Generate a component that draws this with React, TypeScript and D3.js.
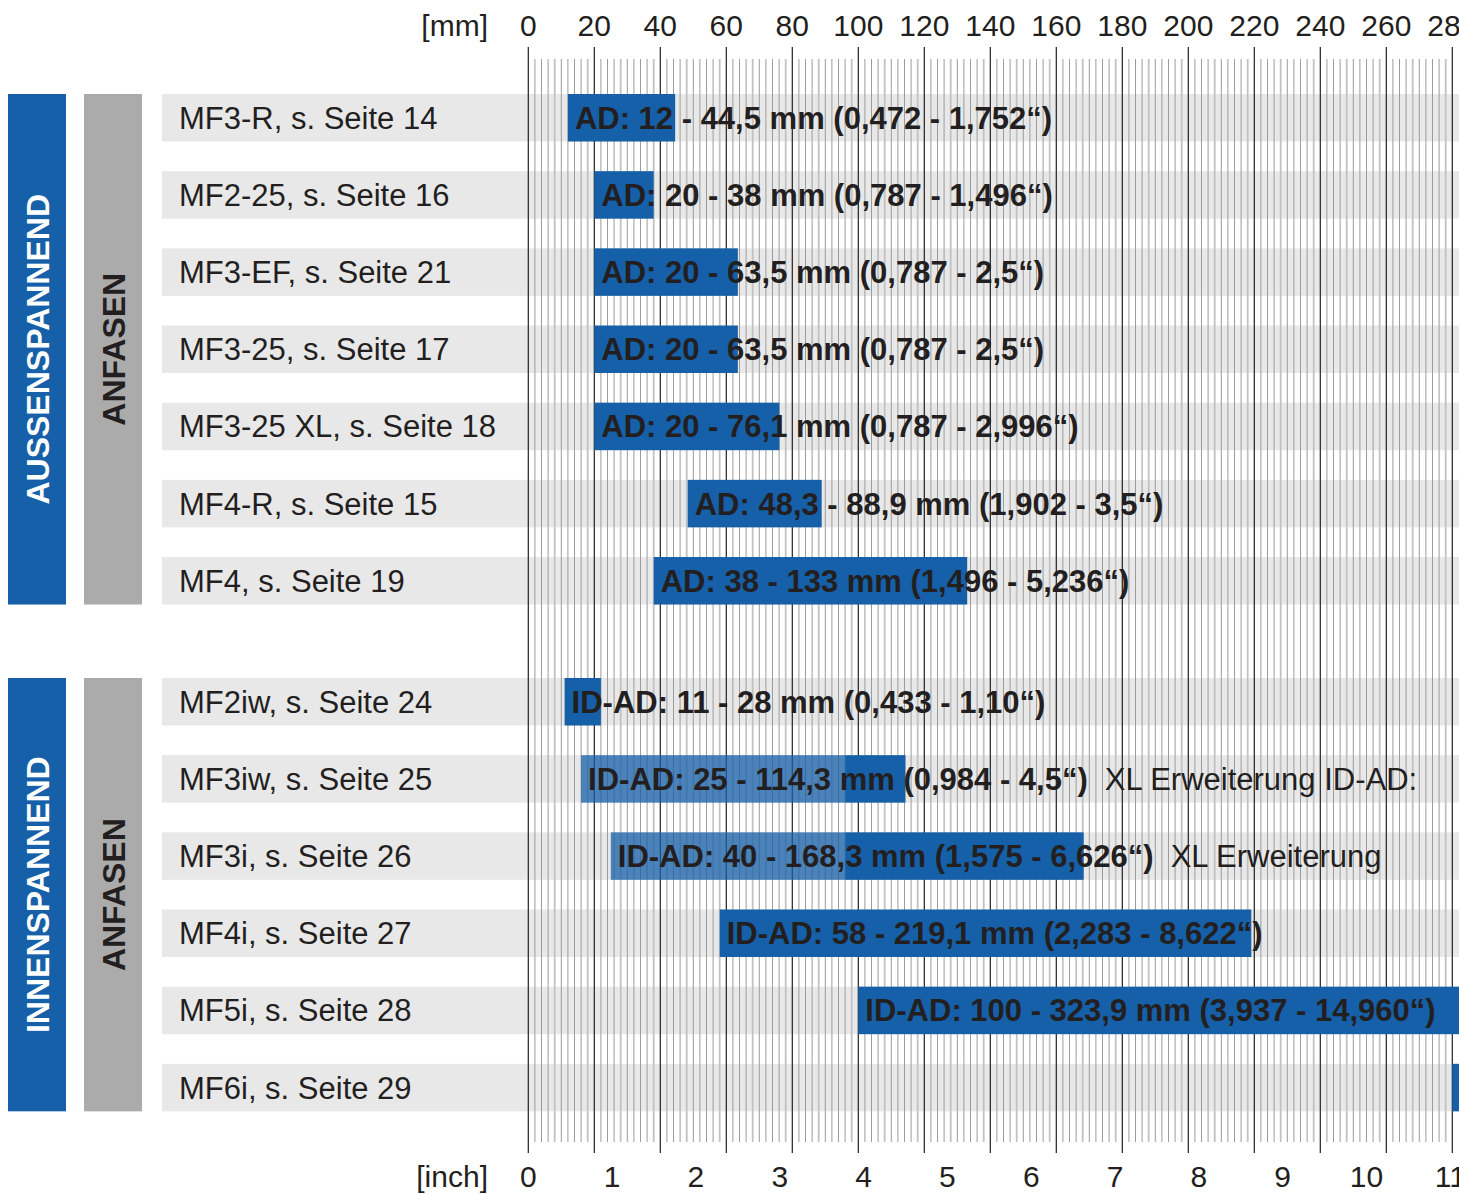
import { useEffect, useRef } from 'react';
import * as d3 from 'd3';

// Clamping ranges per product (mm); xlFrom marks the lighter "XL" extension start
const rowLabels = [
  'MF3-R, s. Seite 14',
  'MF2-25, s. Seite 16',
  'MF3-EF, s. Seite 21',
  'MF3-25, s. Seite 17',
  'MF3-25 XL, s. Seite 18',
  'MF4-R, s. Seite 15',
  'MF4, s. Seite 19',
  'MF2iw, s. Seite 24',
  'MF3iw, s. Seite 25',
  'MF3i, s. Seite 26',
  'MF4i, s. Seite 27',
  'MF5i, s. Seite 28',
  'MF6i, s. Seite 29',
];
const rowGroup = [0, 0, 0, 0, 0, 0, 0, 1, 1, 1, 1, 1, 1];
const rangeFrom = [12, 20, 20, 20, 20, 48.3, 38, 11, 96, 96, 58, 100, 280];
const rangeTo = [44.5, 38, 63.5, 63.5, 76.1, 88.9, 133, 22, 114.3, 168.3, 219.1, 323.9, 340];
const xlFrom: (number | null)[] = [null, null, null, null, null, null, null, null, 16, 25, null, null, null];
const rangeText = [
  'AD: 12 - 44,5 mm (0,472 - 1,752“)',
  'AD: 20 - 38 mm (0,787 - 1,496“)',
  'AD: 20 - 63,5 mm (0,787 - 2,5“)',
  'AD: 20 - 63,5 mm (0,787 - 2,5“)',
  'AD: 20 - 76,1 mm (0,787 - 2,996“)',
  'AD: 48,3 - 88,9 mm (1,902 - 3,5“)',
  'AD: 38 - 133 mm (1,496 - 5,236“)',
  'ID-AD: 11 - 28 mm (0,433 - 1,10“)',
  'ID-AD: 25 - 114,3 mm (0,984 - 4,5“)',
  'ID-AD: 40 - 168,3 mm (1,575 - 6,626“)',
  'ID-AD: 58 - 219,1 mm (2,283 - 8,622“)',
  'ID-AD: 100 - 323,9 mm (3,937 - 14,960“)',
  '',
];
const noteText = ['', '', '', '', '', '', '', '', 'XL Erweiterung ID-AD:', 'XL Erweiterung', '', '', ''];
const groupTitles = ['AUSSENSPANNEND', 'INNENSPANNEND'];
const subTitles = ['ANFASEN', 'ANFASEN'];
const mmTicks = [0, 20, 40, 60, 80, 100, 120, 140, 160, 180, 200, 220, 240, 260, 280];
const inchTicks = [0, 1, 2, 3, 4, 5, 6, 7, 8, 9, 10, 11];

const WIDTH = 1459;
const HEIGHT = 1194;
const FONT = '"Liberation Sans", Arial, Helvetica, sans-serif';
const BLUE = '#1560a8';
const DARK = '#231f20';
const BAND = '#e8e8e9';
const ROW_TOP = 94;
const ROW_PITCH = 77.17;
const BAND_H = 47.5;
const GROUP_GAP = 43.8;

export default function App() {
  const svgRef = useRef<SVGSVGElement>(null);

  useEffect(() => {
    if (!svgRef.current) return;
    const svg = d3.select(svgRef.current);
    svg.selectAll('*').remove();

    const x = d3.scaleLinear().domain([0, 282]).range([528.3, 528.3 + 282 * 3.3]);
    const rowY = d3.scaleLinear().domain([0, 1]).range([ROW_TOP, ROW_TOP + ROW_PITCH]);
    const yOf = (i: number) => rowY(i) + rowGroup[i] * GROUP_GAP;

    svg.append('rect').attr('width', WIDTH).attr('height', HEIGHT).attr('fill', '#ffffff');

    // Row bands
    rowLabels.forEach((_, i) => {
      svg
        .append('rect')
        .attr('x', 162)
        .attr('y', yOf(i))
        .attr('width', WIDTH - 162)
        .attr('height', BAND_H)
        .attr('fill', BAND);
    });

    // Minor grid every 2 mm
    const minor = d3.range(2, 282, 2).filter(v => v % 20 !== 0);
    svg
      .append('g')
      .selectAll('line')
      .data(minor)
      .enter()
      .append('line')
      .attr('x1', (d: number) => x(d))
      .attr('x2', (d: number) => x(d))
      .attr('y1', 59)
      .attr('y2', 1142)
      .attr('stroke', (d: number) => (d % 10 === 8 ? '#c2c2c2' : '#9c9c9c'))
      .attr('stroke-width', (d: number) => (d % 10 === 8 ? 1.8 : 1));

    // Major grid every 20 mm
    svg
      .append('g')
      .selectAll('line')
      .data(mmTicks)
      .enter()
      .append('line')
      .attr('x1', (d: number) => x(d))
      .attr('x2', (d: number) => x(d))
      .attr('y1', 47)
      .attr('y2', 1153)
      .attr('stroke', DARK)
      .attr('stroke-width', 1.2);

    // Bars
    rowLabels.forEach((_, i) => {
      const y = yOf(i);
      const xl = xlFrom[i];
      if (xl != null) {
        svg
          .append('rect')
          .attr('x', x(xl))
          .attr('y', y)
          .attr('width', x(rangeFrom[i]) - x(xl))
          .attr('height', BAND_H)
          .attr('fill', BLUE)
          .attr('fill-opacity', 0.75);
      }
      svg
        .append('rect')
        .attr('x', x(rangeFrom[i]))
        .attr('y', y)
        .attr('width', x(rangeTo[i]) - x(rangeFrom[i]))
        .attr('height', BAND_H)
        .attr('fill', BLUE);
    });

    // Row labels, range texts and notes
    rowLabels.forEach((label, i) => {
      const yc = yOf(i) + BAND_H / 2 + 11;
      svg
        .append('text')
        .attr('x', 179)
        .attr('y', yc)
        .attr('font-family', FONT)
        .attr('font-size', 31)
        .attr('fill', DARK)
        .text(label);

      if (!rangeText[i]) return;
      const start = xlFrom[i] ?? rangeFrom[i];
      const tx = x(start) + 7;
      const t = svg
        .append('text')
        .attr('x', tx)
        .attr('y', yc)
        .attr('font-family', FONT)
        .attr('font-size', 31)
        .attr('font-weight', 'bold')
        .attr('fill', DARK)
        .text(rangeText[i]);
      if (noteText[i]) {
        const w = (t.node() as SVGTextElement).getComputedTextLength();
        svg
          .append('text')
          .attr('x', tx + w + 17)
          .attr('y', yc)
          .attr('font-family', FONT)
          .attr('font-size', 31)
          .attr('fill', DARK)
          .text(noteText[i]);
      }
    });

    // Group side labels
    [0, 1].forEach(g => {
      const idx = rowGroup.map((v, i) => (v === g ? i : -1)).filter(i => i >= 0);
      const top = yOf(idx[0]);
      const bottom = yOf(idx[idx.length - 1]) + BAND_H;
      const mid = (top + bottom) / 2;
      svg
        .append('rect')
        .attr('x', 8)
        .attr('y', top)
        .attr('width', 58)
        .attr('height', bottom - top)
        .attr('fill', BLUE);
      svg
        .append('rect')
        .attr('x', 84)
        .attr('y', top)
        .attr('width', 58)
        .attr('height', bottom - top)
        .attr('fill', '#ababab');
      svg
        .append('text')
        .attr('transform', `translate(${37 + 11.5}, ${mid}) rotate(-90)`)
        .attr('text-anchor', 'middle')
        .attr('font-family', FONT)
        .attr('font-size', 32)
        .attr('font-weight', 'bold')
        .attr('fill', '#ffffff')
        .text(groupTitles[g]);
      svg
        .append('text')
        .attr('transform', `translate(${113 + 11.5}, ${mid}) rotate(-90)`)
        .attr('text-anchor', 'middle')
        .attr('font-family', FONT)
        .attr('font-size', 32)
        .attr('font-weight', 'bold')
        .attr('fill', DARK)
        .text(subTitles[g]);
    });

    // Axes labels
    const axisText = (tx: number, ty: number, s: string, anchor: string) =>
      svg
        .append('text')
        .attr('x', tx)
        .attr('y', ty)
        .attr('text-anchor', anchor)
        .attr('font-family', FONT)
        .attr('font-size', 30)
        .attr('fill', DARK)
        .text(s);

    axisText(488, 36, '[mm]', 'end');
    mmTicks.forEach(t => axisText(x(t), 36, `${t}`, 'middle'));
    axisText(488, 1187, '[inch]', 'end');
    inchTicks.forEach(t => axisText(x(t * 25.4), 1187, `${t}`, 'middle'));
  }, []);

  return (
    <svg
      ref={svgRef}
      width={WIDTH}
      height={HEIGHT}
      style={{ position: 'absolute', left: 0, top: 0, display: 'block' }}
    />
  );
}
